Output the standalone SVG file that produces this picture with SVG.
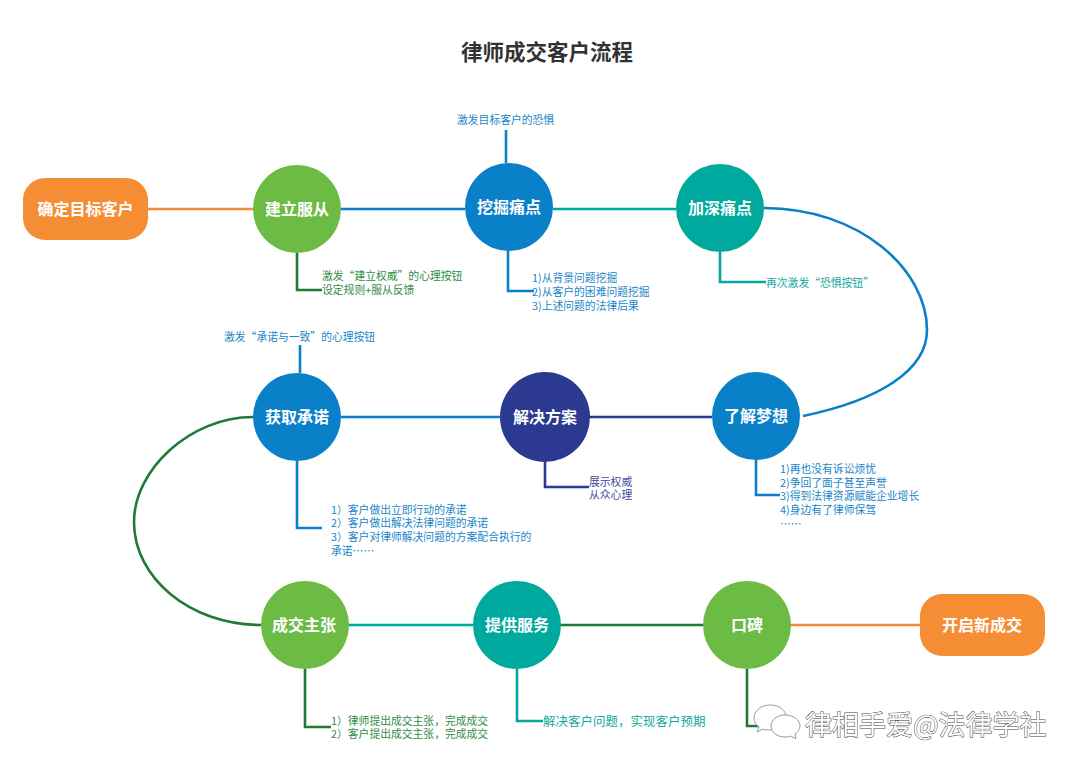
<svg xmlns="http://www.w3.org/2000/svg" width="1080" height="772" viewBox="0 0 1080 772">
<style>
text{font-family:"Noto Sans CJK SC","Liberation Sans",sans-serif}
.n{font-size:16px;font-weight:700;fill:#fff;text-anchor:middle}
.s{font-size:10.8px}
.l{fill:none;stroke-width:2.6}
.o{stroke:#f58d34}.g{stroke:#6bbb44}.b{stroke:#0a80c9}.t{stroke:#00a99d}.d{stroke:#1f7a34}.v{stroke:#2b3990}
.cb{fill:#1a86c8}.cg{fill:#2f8b45}.ct{fill:#12a79d}.cv{fill:#3f4c9c}
.wm{font-size:27px;fill:#fff;stroke:#444;stroke-width:1;paint-order:stroke}
</style>
<rect width="1080" height="772" fill="#fff"/>
<text x="547" y="60" text-anchor="middle" font-size="21.5" font-weight="700" fill="#333">律师成交客户流程</text>
<g id="connectors">
<path class="l o" d="M148 209H253"/>
<path class="l b" d="M341 209H465"/>
<path class="l t" d="M553 209H676"/>
<path class="l b" d="M764 208C860 208 927 270 927 330C927 370 880 400 803 416"/>
<path class="l v" d="M588 417H712"/>
<path class="l b" d="M341 417H500"/>
<path class="l d" d="M253 417C190 417 134 470 134 522C134 578 190 625 261 625"/>
<path class="l t" d="M349 625H473"/>
<path class="l d" d="M561 625H703"/>
<path class="l o" d="M791 625H920"/>
<path class="l d" d="M297 253V290H322"/>
<path class="l b" d="M508 250V291H534"/>
<path class="l b" d="M506 163V130"/>
<path class="l t" d="M720 252V282H766"/>
<path class="l b" d="M756 460V495H780"/>
<path class="l v" d="M545 461V487H589"/>
<path class="l b" d="M297 461V528H322"/>
<path class="l b" d="M300 373V345"/>
<path class="l d" d="M305 669V727H331"/>
<path class="l t" d="M517 669V721H543"/>
<path class="l d" d="M747 669V726H770"/>
</g>
<g id="n1"><rect x="23" y="178" width="125" height="62" rx="22" fill="#f58d34"/><text class="n" x="85.500" y="215">确定目标客户</text></g>
<g id="n2"><circle cx="297" cy="209" r="44" fill="#6bbb44"/><text class="n" x="297" y="215">建立服从</text></g>
<g id="n3"><circle cx="509" cy="207" r="44" fill="#0a80c9"/><text class="n" x="509" y="213">挖掘痛点</text></g>
<g id="n4"><circle cx="720" cy="208" r="44" fill="#00a99d"/><text class="n" x="720" y="214">加深痛点</text></g>
<g id="n5"><circle cx="756" cy="416" r="44" fill="#0a80c9"/><text class="n" x="756" y="422">了解梦想</text></g>
<g id="n6"><circle cx="545" cy="417" r="45" fill="#2b3990"/><text class="n" x="545" y="423">解决方案</text></g>
<g id="n7"><circle cx="297" cy="417" r="44" fill="#0a80c9"/><text class="n" x="297" y="423">获取承诺</text></g>
<g id="n8"><circle cx="305" cy="625" r="44" fill="#6bbb44"/><text class="n" x="304" y="631">成交主张</text></g>
<g id="n9"><circle cx="517" cy="625" r="44" fill="#00a99d"/><text class="n" x="517" y="631">提供服务</text></g>
<g id="n10"><circle cx="747" cy="625" r="44" fill="#6bbb44"/><text class="n" x="747" y="631">口碑</text></g>
<g id="n11"><rect x="920" y="594" width="125" height="62" rx="22" fill="#f58d34"/><text class="n" x="982" y="631">开启新成交</text></g>
<g id="labels" class="s">
<text class="cb" x="457" y="124">激发目标客户的恐惧</text>
<text class="cg"><tspan x="322" y="280">激发“建立权威”的心理按钮</tspan><tspan x="322" y="294">设定规则+服从反馈</tspan></text>
<text class="cb"><tspan x="532" y="282">1)从背景问题挖掘</tspan><tspan x="532" y="296">2)从客户的困难问题挖掘</tspan><tspan x="532" y="310">3)上述问题的法律后果</tspan></text>
<text class="ct" x="766" y="287">再次激发“恐惧按钮”</text>
<text class="cb" x="224" y="341">激发“承诺与一致”的心理按钮</text>
<text class="cb"><tspan x="780" y="473">1)再也没有诉讼烦忧</tspan><tspan x="780" y="487">2)争回了面子甚至声誉</tspan><tspan x="780" y="500">3)得到法律资源赋能企业增长</tspan><tspan x="780" y="514">4)身边有了律师保驾</tspan><tspan x="780" y="528">……</tspan></text>
<text class="cv"><tspan x="589" y="486">展示权威</tspan><tspan x="589" y="499">从众心理</tspan></text>
<text class="cb"><tspan x="331" y="514">1）客户做出立即行动的承诺</tspan><tspan x="331" y="527">2）客户做出解决法律问题的承诺</tspan><tspan x="331" y="541">3）客户对律师解决问题的方案配合执行的</tspan><tspan x="331" y="555">承诺……</tspan></text>
<text class="cg"><tspan x="331" y="725">1）律师提出成交主张，完成成交</tspan><tspan x="331" y="738">2）客户提出成交主张，完成成交</tspan></text>
<text class="ct" x="543" y="726" font-size="12.500" style="font-size:12.500px">解决客户问题，实现客户预期</text>
</g>
<g id="watermark">
<path d="M770 705c-9 0-16 6-16 13 0 4 2 7 5 9l-2 5 6-3c2 1 5 1 7 1 9 0 16-6 16-13s-7-12-16-12z" fill="#fff" stroke="#999"/>
<path d="M785 715c-8 0-14 5-14 11s6 11 14 11c2 0 4 0 6-1l5 3-1-5c3-2 5-5 5-8 0-6-7-11-15-11z" fill="#fff" stroke="#999"/>
<text class="wm" x="805" y="735">律相手爱@法律学社</text>
</g>
</svg>
